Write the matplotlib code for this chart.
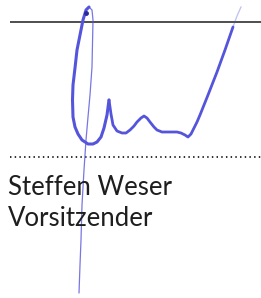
import numpy as np
import matplotlib
matplotlib.use("Agg")
import matplotlib.pyplot as plt

# signature strokes (pixel coords, y downwards)
loop_x = [89, 86, 83, 80, 77, 75, 73, 72.5, 73, 75, 78, 82, 88, 93, 97, 101, 104, 107, 109]
loop_y = [7, 10, 20, 35, 50, 68, 85, 100, 117, 127, 134, 140, 144, 144, 142, 137, 128, 115, 100]
wave_x = [109, 111, 113, 117, 122, 126, 130, 134, 137, 141, 144, 147, 150, 154, 157, 162, 167, 172, 177, 181, 185, 188, 191, 194, 197, 200, 208, 217, 225, 233]
wave_y = [100, 114, 125, 131, 133, 133, 130, 126, 122, 118, 116, 118, 122, 127, 130, 132, 132, 132, 132, 133, 135, 137, 134, 128, 122, 115, 95, 72, 50, 27]
fade_x = [233, 237, 241]
fade_y = [27, 16, 7]
stem_x = [89, 92, 93, 92, 90, 88, 86, 84, 82, 81, 80, 79]
stem_y = [7, 10, 20, 67, 95, 117, 140, 170, 205, 240, 265, 293]

name = "Steffen Weser"
title = "Vorsitzender"

ink = "#5555dc"

fig = plt.figure(figsize=(2.61, 2.98), dpi=100)
ax = fig.add_axes([0, 0, 1, 1])
ax.set_xlim(0, 261)
ax.set_ylim(298, 0)
ax.axis("off")

# printed lines
ax.plot([10, 261], [22, 22], color="#1e1e1e", lw=1.1, solid_capstyle="butt")
ax.plot([10, 261], [157, 157], color="#1e1e1e", lw=1.3, linestyle=(0, (0.8, 1.8)))

# text
ax.text(8, 195, name, fontsize=18.5, family="Lato", color="#1e1e1e", va="baseline")
ax.text(8, 226, title, fontsize=18.5, family="Lato", color="#1e1e1e", va="baseline")

# signature
ax.plot(stem_x, stem_y, color=ink, lw=0.9, alpha=0.8, solid_capstyle="round")
ax.plot(loop_x, loop_y, color=ink, lw=2.2, solid_capstyle="round", solid_joinstyle="round")
ax.plot(wave_x, wave_y, color=ink, lw=2.0, solid_capstyle="round", solid_joinstyle="round")
ax.plot(fade_x, fade_y, color=ink, lw=1.0, alpha=0.35)
ax.plot([86], [13], "o", color="#2a2aa0", ms=2.5)

fig.savefig("out.png", dpi=100)
